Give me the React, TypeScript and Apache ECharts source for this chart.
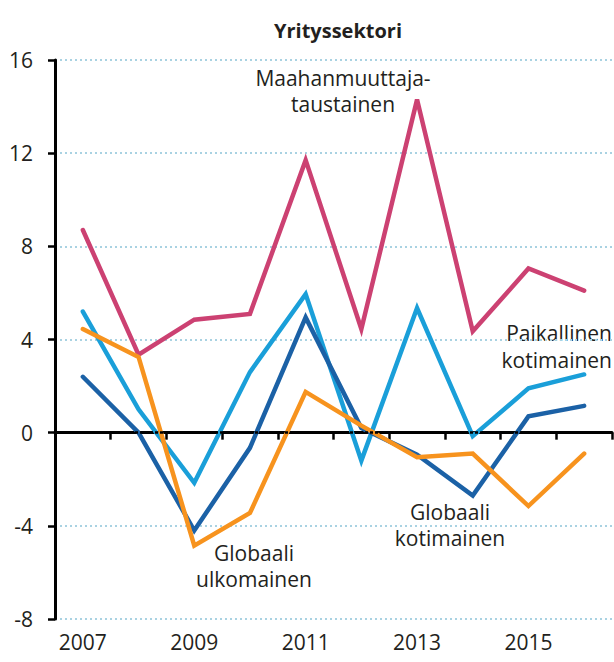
import React, { useEffect, useRef } from "react";
import * as echarts from "echarts";

const years = ["2007", "2008", "2009", "2010", "2011", "2012", "2013", "2014", "2015", "2016"];
const maahanmuuttaja = [8.7, 3.35, 4.85, 5.1, 11.7, 4.45, 14.3, 4.35, 7.05, 6.1];
const paikallinenKotimainen = [5.2, 1.0, -2.15, 2.6, 5.95, -1.2, 5.35, -0.15, 1.9, 2.5];
const globaaliKotimainen = [2.4, 0.0, -4.2, -0.65, 4.95, 0.2, -0.95, -2.7, 0.7, 1.15];
const globaaliUlkomainen = [4.45, 3.25, -4.85, -3.45, 1.75, 0.3, -1.05, -0.9, -3.15, -0.9];

const FONT = "'Open Sans', 'Noto Sans', sans-serif";
const TXT = "#231f20";

export default function App() {
  const ref = useRef<HTMLDivElement>(null);
  useEffect(() => {
    if (!ref.current) return;
    const chart = echarts.init(ref.current, null, { renderer: "svg" });
    const lineSeries = (name: string, data: number[], color: string, extra: any = {}) => ({
      name,
      type: "line",
      data,
      symbol: "none",
      lineStyle: { color, width: 4.5, cap: "round", join: "miter" },
      itemStyle: { color },
      ...extra,
    });
    const label = (text: string, x: number, y: number, align = "center", lh = 26) => ({
      type: "text",
      x,
      y,
      style: {
        text,
        fill: TXT,
        font: `21px ${FONT}`,
        lineHeight: lh,
        textAlign: align,
        textVerticalAlign: "middle",
      },
    });
    chart.setOption({
      animation: false,
      title: {
        text: "Yrityssektori",
        left: 333,
        top: 15,
        textAlign: "center",
        textStyle: { fontFamily: FONT, fontSize: 20, fontWeight: "bold", color: TXT },
      },
      grid: { left: 55, right: 2, top: 60, bottom: 43 },
      xAxis: {
        type: "category",
        data: years,
        boundaryGap: true,
        axisLine: { show: true, lineStyle: { color: "#000", width: 3 } },
        axisTick: { show: true, interval: 0, length: 7, lineStyle: { color: "#000", width: 2.5 } },
        axisLabel: { interval: 1, fontFamily: FONT, fontSize: 21, color: TXT, margin: 12 },
        splitLine: { show: false },
      },
      yAxis: {
        type: "value",
        min: -8,
        max: 16,
        interval: 4,
        axisLine: { show: true, lineStyle: { color: "#000", width: 3 } },
        axisTick: { show: true, length: 7, lineStyle: { color: "#000", width: 2.5 } },
        axisLabel: { fontFamily: FONT, fontSize: 21, color: TXT, margin: 22 },
        splitLine: { show: true, lineStyle: { color: "#a9d2e2", width: 2, type: [2, 3] } },
      },
      series: [
        lineSeries("Maahanmuuttaja-taustainen", maahanmuuttaja, "#cc4172", {
          markLine: {
            silent: true,
            symbol: "none",
            label: { show: false },
            lineStyle: { color: "#000", width: 2.5, type: [3, 2] },
            data: [{ yAxis: 0 }],
          },
        }),
        lineSeries("Paikallinen kotimainen", paikallinenKotimainen, "#1a9fd9"),
        lineSeries("Globaali kotimainen", globaaliKotimainen, "#1b61a6"),
        lineSeries("Globaali ulkomainen", globaaliUlkomainen, "#f7931e"),
      ],
      graphic: [
        label("Maahanmuuttaja-\ntaustainen", 343, 90.5),
        label("Paikallinen\nkotimainen", 612, 346.5, "right", 27),
        label("Globaali\nkotimainen", 450, 524.5),
        label("Globaali\nulkomainen", 254, 565.5),
      ],
    });
    return () => chart.dispose();
  }, []);
  return <div ref={ref} style={{ width: 614, height: 662, position: "absolute", left: 0, top: 0 }} />;
}
